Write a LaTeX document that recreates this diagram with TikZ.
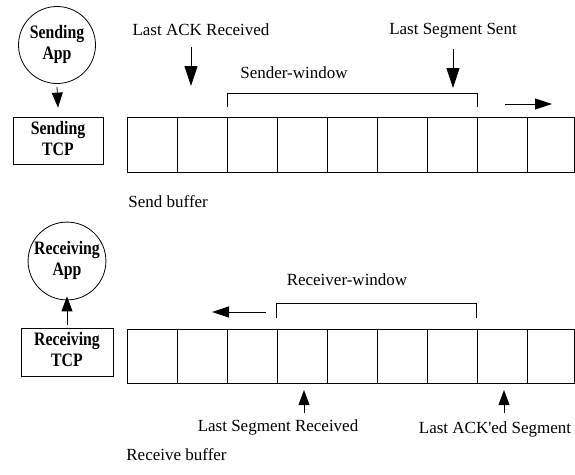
\documentclass[tikz,border=0pt]{standalone}
\usepackage{fontspec}
\usepackage{graphicx}
\setmainfont{Liberation Serif}[Ligatures=TeXOff]
\usetikzlibrary{arrows.meta}
\newcommand{\bl}[2]{\scalebox{0.83}[1]{\fontsize{19}{21}\bfseries\selectfont\begin{tabular}{@{}c@{}}#1\\#2\end{tabular}}}
\begin{document}
\begin{tikzpicture}[x=1pt,y=-1pt,line width=0.8pt,
  lbl/.style={font=\fontsize{17}{20}\selectfont,inner sep=0pt},
  app/.style={circle,draw,minimum size=77pt,align=center,inner sep=0pt},
  tcp/.style={draw,rectangle,align=center,inner sep=0pt},
  cell/.style={draw,rectangle,minimum width=50pt,minimum height=55pt,inner sep=0pt,anchor=north west},
  bigarr/.style={-{Triangle[length=20pt,width=13pt]}},
  arr/.style={-{Triangle[length=15pt,width=11pt]}}]
\useasboundingbox (0,0) rectangle (575,474);

% ---------- sender side ----------
\node[app] (sapp) at (57,45) {\bl{Sending}{App}};
\node[tcp,minimum width=90pt,minimum height=47pt] (stcp) at (58,140.5) {\bl{Sending}{TCP}};
\draw[arr] ([yshift=-3pt]sapp.south) -- ([yshift=9pt]stcp.north);

\foreach \i in {0,...,7} {
  \node[cell] (s\i) at (127+50*\i,117) {};
}
\node[cell,minimum width=47pt] (s8) at (527,117) {};

\node[lbl] (lackr) at (201,30) {Last ACK Received};
\node[lbl] (lsegs) at (453,31) {Last Segment Sent};
\coordinate (a1s) at (191,47);
\coordinate (a1e) at (191,86);
\coordinate (a2s) at (453,49);
\coordinate (a2e) at (453,88);
\draw[bigarr] (a1s) -- (a1e);
\draw[bigarr] (a2s) -- (a2e);

\node[lbl] (swin) at (294,73) {Sender-window};
\draw (227,107) -- (227,93) -- (477,93) -- (477,107);
\coordinate (rs) at (505,104);
\coordinate (re) at (552,104);
\draw[-{Triangle[length=17pt,width=11pt]}] (rs) -- (re);

\node[lbl,anchor=west] (sbuf) at (128,202) {Send buffer};

% ---------- receiver side ----------
\node[app] (rapp) at (67,261) {\bl{Receiving}{App}};
\node[tcp,minimum width=92pt,minimum height=48pt] (rtcp) at (67,352) {\bl{Receiving}{TCP}};
\draw[arr] ([yshift=3pt]rtcp.north) -- ([yshift=4pt]rapp.south);

\foreach \i in {0,...,7} {
  \node[cell,minimum height=54pt] (r\i) at (127+50*\i,329) {};
}
\node[cell,minimum width=47pt,minimum height=54pt] (r8) at (527,329) {};

\node[lbl] (rwin) at (347,280) {Receiver-window};
\draw (276,318) -- (276,303) -- (476,303) -- (476,318);
\coordinate (ls) at (266,312);
\coordinate (le) at (212,312);
\draw[-{Triangle[length=17pt,width=11pt]}] (ls) -- (le);

\coordinate (b1s) at (304,413);
\coordinate (b1e) at (304,390);
\coordinate (b2s) at (504,413);
\coordinate (b2e) at (504,390);
\draw[arr] (b1s) -- (b1e);
\draw[arr] (b2s) -- (b2e);
\node[lbl] (lsegr) at (278,427) {Last Segment Received};
\node[lbl] (lacked) at (495,429) {Last ACK'ed Segment};

\node[lbl,anchor=west] (rbuf) at (126,455) {Receive buffer};
\end{tikzpicture}
\end{document}
